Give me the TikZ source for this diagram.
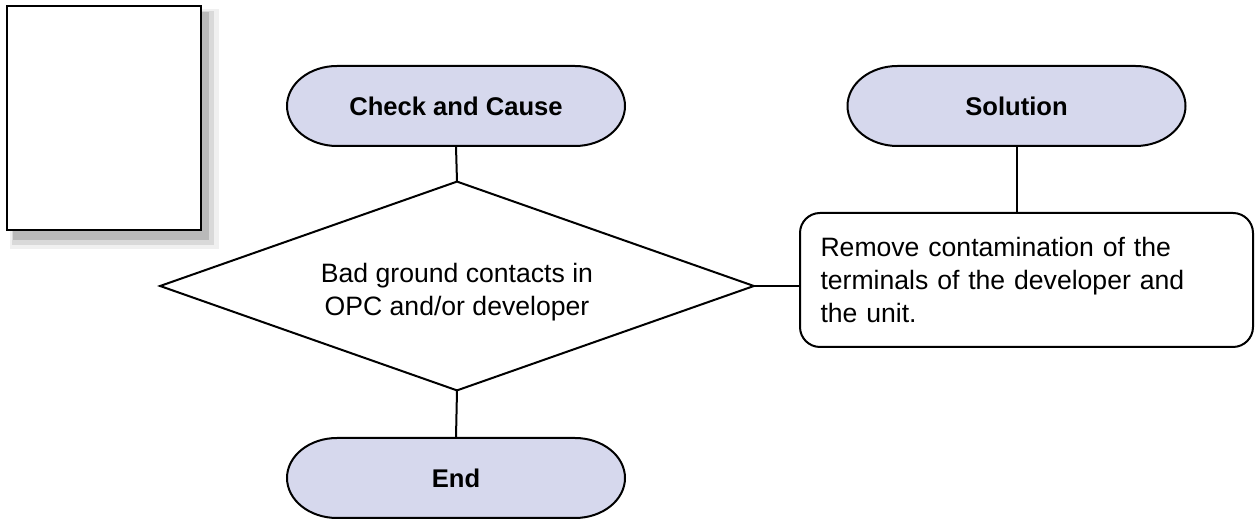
\documentclass[tikz,border=0pt]{standalone}
\usepackage{fontspec}
\setmainfont{Liberation Sans}
\usetikzlibrary{calc}
\definecolor{pillfill}{RGB}{214,216,237}
\newcommand\pillnode[4]{%
  \path[pillshape] (#2-119,#3+40) -- (#2+119,#3+40)
    arc[start angle=90,end angle=-90,x radius=25pt,y radius=20pt]
    -- (#2-119,#3-40)
    arc[start angle=270,end angle=90,x radius=25pt,y radius=20pt] -- cycle;
  \node[pilltext] (#1) at (#2,#3) {#4};}
\begin{document}
\begin{tikzpicture}[x=0.5pt,y=0.5pt,
  pillshape/.style={draw=black,fill=pillfill,line width=1pt},
  pilltext/.style={rectangle,minimum width=169pt,minimum height=40pt,inner sep=0pt,
    font=\fontsize{12.8}{15}\selectfont\bfseries},
  conn/.style={draw=black,line width=1pt},
  decision/.style={rectangle,minimum width=296.5pt,minimum height=104pt,inner sep=0pt,
    align=center,font=\fontsize{13.3}{16.5}\selectfont},
  procbox/.style={rectangle,rounded corners=10pt,draw=black,line width=1pt,fill=white,
    minimum width=226.5pt,minimum height=67pt,inner sep=0pt,text width=206pt,align=left,
    font=\fontsize{13.3}{16.5}\selectfont}]
\useasboundingbox (0,0) rectangle (1255,519);
% page icon with blurred shadow
\fill[gray!12] (10,270) rectangle (219,510);
\fill[gray!30] (12,274) rectangle (214,508);
\fill[gray!55] (13,279) rectangle (209,507);
\draw[fill=white,line width=0.8pt] (7,289) rectangle (201,513);
% pills
\pillnode{cc}{456}{413}{Check and Cause}
\pillnode{sol}{1016.5}{413}{Solution}
\pillnode{fin}{456}{41}{End}
% decision
\node[decision] (d) at (457,233) {\rule{0pt}{15.5pt}Bad ground contacts in\\OPC and/or developer};
\draw[line width=1pt,line join=miter] (d.north) -- (d.east) -- (d.south) -- (d.west) -- cycle;
% solution box
\node[procbox] (sb) at (1026.5,239) {Remove contamination of the\\terminals of the developer and\\the unit.};
% connectors
\draw[conn] (cc.south) -- (d.north);
\draw[conn] (d.south) -- (fin.north);
\draw[conn] (sol.south) -- (sol.south |- sb.north);
\draw[conn] (d.east) -- (d.east -| sb.west);
\end{tikzpicture}
\end{document}
